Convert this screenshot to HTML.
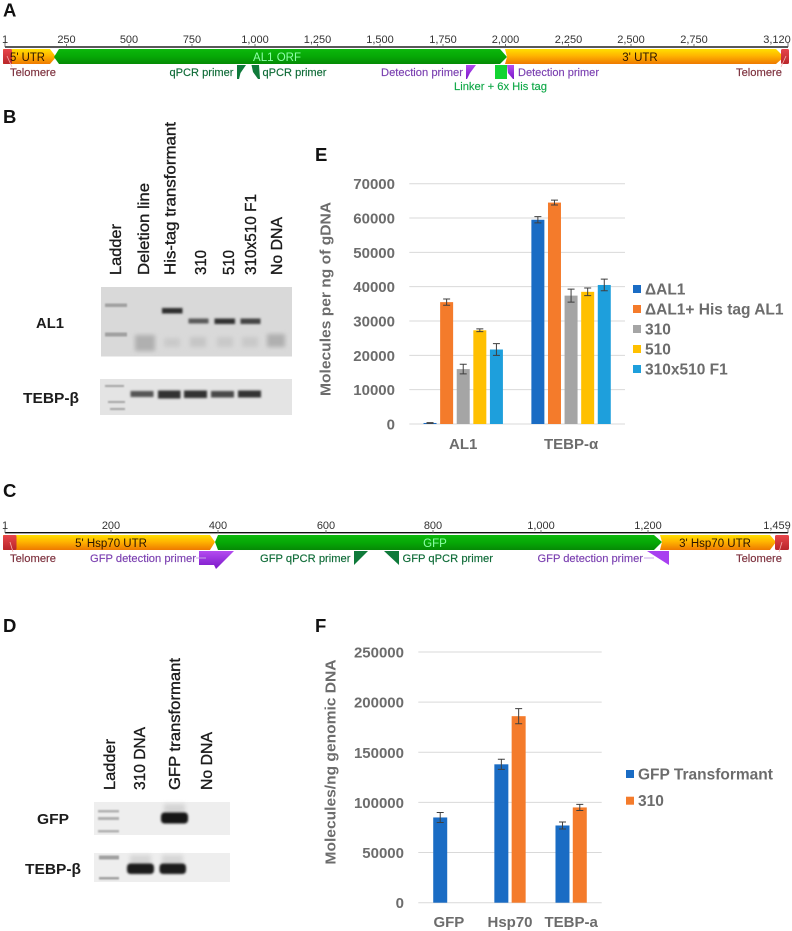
<!DOCTYPE html>
<html lang="en">
<head>
<meta charset="utf-8">
<title>Transgene constructs, gels and qPCR charts</title>
<style>
html,body{margin:0;padding:0;background:#fff}
svg{display:block;filter:blur(.3px)}
text{font-family:"Liberation Sans",sans-serif}
.panel{font-size:18.5px;font-weight:bold;fill:#111}
.tick{font-size:11px;fill:#333}
.seg{font-size:11.500px;fill:#2a1500}
.note{font-size:11px;stroke-width:.15px}
.lane{font-size:16px;fill:#1c1c1c;stroke:#1c1c1c;stroke-width:.35px}
.gel-label{font-size:15px;font-weight:bold;fill:#1c1c1c}
.axis-text{font-size:15px;font-weight:bold;fill:#6c6c6c}
.legend-text{font-size:15.500px;font-weight:bold;fill:#6c6c6c}
</style>
</head>
<body>
<svg id="figure" width="792" height="931" viewBox="0 0 792 931" xmlns="http://www.w3.org/2000/svg">
<defs>
<linearGradient id="gOrange" x1="0" y1="0" x2="0" y2="1"><stop offset="0" stop-color="#ffe000"/><stop offset=".45" stop-color="#ffb400"/><stop offset="1" stop-color="#ee7a00"/></linearGradient>
<linearGradient id="gGreen" x1="0" y1="0" x2="0" y2="1"><stop offset="0" stop-color="#0cb80c"/><stop offset=".5" stop-color="#06a806"/><stop offset="1" stop-color="#058a05"/></linearGradient>
<linearGradient id="gRed" x1="0" y1="0" x2="0" y2="1"><stop offset="0" stop-color="#e8454a"/><stop offset="1" stop-color="#b8262b"/></linearGradient>
<linearGradient id="gPurple" x1="0" y1="0" x2="0" y2="1"><stop offset="0" stop-color="#b44cf0"/><stop offset="1" stop-color="#7a18c8"/></linearGradient>
<filter id="b1" x="-30%" y="-100%" width="160%" height="300%"><feGaussianBlur stdDeviation="1"/></filter>
<filter id="b2" x="-40%" y="-120%" width="180%" height="340%"><feGaussianBlur stdDeviation="2"/></filter>
<filter id="b05" x="-20%" y="-80%" width="140%" height="260%"><feGaussianBlur stdDeviation=".7"/></filter>
</defs>

<text class="panel" x="3" y="16.500">A</text>
<text class="panel" x="3" y="123">B</text>
<text class="panel" x="3" y="497">C</text>
<text class="panel" x="3" y="632">D</text>
<text class="panel" x="315" y="161">E</text>
<text class="panel" x="315" y="632">F</text>

<!-- Map A -->
<g>
<rect x="5" y="46.300" width="783" height="1.400" fill="#111"/>
<g stroke="#555" stroke-width=".8">
<path d="M5 43V47M66.500 44V47M129 44V47M192 44V47M255 44V47M317.500 44V47M380 44V47M443 44V47M505.500 44V47M568.500 44V47M631 44V47M694 44V47M788 43V47"/>
</g>
<g text-anchor="middle">
<text class="tick" x="5" y="43">1</text><text class="tick" x="66.500" y="43">250</text><text class="tick" x="129" y="43">500</text><text class="tick" x="192" y="43">750</text><text class="tick" x="255" y="43">1,000</text><text class="tick" x="317.500" y="43">1,250</text><text class="tick" x="380" y="43">1,500</text><text class="tick" x="443" y="43">1,750</text><text class="tick" x="505.500" y="43">2,000</text><text class="tick" x="568.500" y="43">2,250</text><text class="tick" x="631" y="43">2,500</text><text class="tick" x="694" y="43">2,750</text><text class="tick" x="777" y="43">3,120</text>
</g>
<polygon points="3,49 50,49 56,57 50,64 3,64" fill="url(#gOrange)"/>
<rect x="3" y="49" width="9" height="15" rx="1.500" fill="url(#gRed)"/>
<polygon points="59,49 500,49 507,57 500,64 59,64 54,57" fill="url(#gGreen)"/>
<polygon points="505,49 776,49 784,57 776,64 505,64 507,57" fill="url(#gOrange)"/>
<rect x="781" y="49" width="8" height="15" rx="1.500" fill="url(#gRed)"/>
<path d="M7 56L12 67M786 56L781 67" stroke="#f4b0b0" stroke-width=".8" fill="none"/>
<text class="seg" x="10" y="61" textLength="35" lengthAdjust="spacingAndGlyphs">5' UTR</text>
<text class="seg" x="277" y="61" text-anchor="middle" style="fill:#8dffa8">AL1 ORF</text>
<text class="seg" x="640" y="61" text-anchor="middle">3' UTR</text>
<text class="note" x="10" y="76" textLength="46" lengthAdjust="spacingAndGlyphs" fill="#7c2f3c" stroke="#7c2f3c">Telomere</text>
<text class="note" x="736" y="76" textLength="46" lengthAdjust="spacingAndGlyphs" fill="#7c2f3c" stroke="#7c2f3c">Telomere</text>
<text class="note" x="169.500" y="76" textLength="64" lengthAdjust="spacingAndGlyphs" fill="#0d6a36" stroke="#0d6a36">qPCR primer</text>
<text class="note" x="262.500" y="76" textLength="64" lengthAdjust="spacingAndGlyphs" fill="#0d6a36" stroke="#0d6a36">qPCR primer</text>
<polygon points="237,65 246,65 240.500,73 239,79 237,79" fill="#0f7a3a"/>
<polygon points="251.500,65 259,65 260,79 258,79 253,72" fill="#0f7a3a"/>
<text class="note" x="381" y="76" textLength="82" lengthAdjust="spacingAndGlyphs" fill="#7a3fb0" stroke="#7a3fb0">Detection primer</text>
<text class="note" x="518" y="76" textLength="81" lengthAdjust="spacingAndGlyphs" fill="#7a3fb0" stroke="#7a3fb0">Detection primer</text>
<polygon points="466,65 476,65 470,73 467,79 466,79" fill="url(#gPurple)"/>
<polygon points="507,65 514,65 514,79 513,79 508,73" fill="url(#gPurple)"/>
<rect x="495" y="65" width="12" height="14" fill="#12d431"/>
<text class="note" x="454" y="90" textLength="93" lengthAdjust="spacingAndGlyphs" fill="#10a848" stroke="#10a848">Linker + 6x His tag</text>
</g>

<!-- Map C -->
<g>
<rect x="5" y="532" width="783" height="1.400" fill="#111"/>
<g stroke="#555" stroke-width=".8">
<path d="M5 529V533M111 530V533M218 530V533M326 530V533M433 530V533M541 530V533M648 530V533M788 529V533"/>
</g>
<g text-anchor="middle">
<text class="tick" x="5" y="529">1</text><text class="tick" x="111" y="529">200</text><text class="tick" x="218" y="529">400</text><text class="tick" x="326" y="529">600</text><text class="tick" x="433" y="529">800</text><text class="tick" x="541" y="529">1,000</text><text class="tick" x="648" y="529">1,200</text><text class="tick" x="777" y="529">1,459</text>
</g>
<polygon points="3,535 210,535 215,542 210,550 3,550" fill="url(#gOrange)"/>
<rect x="3" y="535" width="13.500" height="15" rx="1.500" fill="url(#gRed)"/>
<polygon points="218,535 654,535 662,542 654,550 218,550 215,542" fill="url(#gGreen)"/>
<polygon points="660,535 770,535 776,542 770,550 660,550 662,542" fill="url(#gOrange)"/>
<rect x="775" y="535" width="14" height="15" rx="1.500" fill="url(#gRed)"/>
<path d="M10 542L13 552M782 542L779 552" stroke="#f4b0b0" stroke-width=".8" fill="none"/>
<text class="seg" x="111" y="547" text-anchor="middle">5' Hsp70 UTR</text>
<text class="seg" x="435" y="547" text-anchor="middle" style="fill:#8dffa8">GFP</text>
<text class="seg" x="715" y="547" text-anchor="middle">3' Hsp70 UTR</text>
<text class="note" x="10" y="562" textLength="46" lengthAdjust="spacingAndGlyphs" fill="#7c2f3c" stroke="#7c2f3c">Telomere</text>
<text class="note" x="736" y="562" textLength="46" lengthAdjust="spacingAndGlyphs" fill="#7c2f3c" stroke="#7c2f3c">Telomere</text>
<text class="note" x="90" y="562" textLength="106" lengthAdjust="spacingAndGlyphs" fill="#7a3fb0" stroke="#7a3fb0">GFP detection primer</text>
<text class="note" x="537.500" y="562" textLength="105.500" lengthAdjust="spacingAndGlyphs" fill="#7a3fb0" stroke="#7a3fb0">GFP detection primer</text>
<polygon points="199,551 234,551 216,569 214,565 199,565" fill="url(#gPurple)"/>
<polygon points="647,551 669,551 669,565" fill="#a83ff0"/>
<path d="M196 558H206M644 558H654" stroke="#c9a6e8" stroke-width="1"/>
<text class="note" x="260" y="562" textLength="90.500" lengthAdjust="spacingAndGlyphs" fill="#0d6a36" stroke="#0d6a36">GFP qPCR primer</text>
<text class="note" x="402.500" y="562" textLength="90.500" lengthAdjust="spacingAndGlyphs" fill="#0d6a36" stroke="#0d6a36">GFP qPCR primer</text>
<polygon points="354,551 368,551 354,565" fill="#0f7a3a"/>
<polygon points="384,551 399,551 399,565" fill="#0f7a3a"/>
</g>

<!-- Gel B -->
<g>
<g>
<text class="lane" transform="translate(121,275) rotate(-90)" textLength="51" lengthAdjust="spacingAndGlyphs">Ladder</text>
<text class="lane" transform="translate(149,275) rotate(-90)" textLength="92" lengthAdjust="spacingAndGlyphs">Deletion line</text>
<text class="lane" transform="translate(175.500,275) rotate(-90)" textLength="153" lengthAdjust="spacingAndGlyphs">His-tag transformant</text>
<text class="lane" transform="translate(206,275) rotate(-90)" textLength="25" lengthAdjust="spacingAndGlyphs">310</text>
<text class="lane" transform="translate(234,275) rotate(-90)" textLength="25" lengthAdjust="spacingAndGlyphs">510</text>
<text class="lane" transform="translate(256,275) rotate(-90)" textLength="81" lengthAdjust="spacingAndGlyphs">310x510 F1</text>
<text class="lane" transform="translate(282,275) rotate(-90)" textLength="58" lengthAdjust="spacingAndGlyphs">No DNA</text>
</g>
<text class="gel-label" x="36" y="328" textLength="28" lengthAdjust="spacingAndGlyphs">AL1</text>
<text class="gel-label" x="23" y="403" textLength="56" lengthAdjust="spacingAndGlyphs">TEBP-β</text>
<rect x="101" y="287" width="191" height="69.500" fill="#d9d9d9"/>
<g filter="url(#b2)" fill="#b0b0b0">
<rect x="135" y="335" width="20" height="16"/><rect x="267" y="334" width="18" height="13"/>
<rect x="190" y="337" width="16" height="10" fill="#c6c6c6"/><rect x="217" y="337" width="16" height="10" fill="#c9c9c9"/><rect x="242" y="337" width="16" height="10" fill="#c9c9c9"/><rect x="164" y="338" width="16" height="9" fill="#cacaca"/>
</g>
<g filter="url(#b05)" fill="#a0a0a0">
<rect x="105" y="303.500" width="22" height="3.500"/><rect x="105" y="332.500" width="22" height="4"/>
</g>
<g filter="url(#b1)" fill="#2e2e2e">
<rect x="162" y="308" width="20.500" height="5.500"/>
<rect x="188.500" y="318.500" width="20" height="5" fill="#5a5a5a"/>
<rect x="214.500" y="318.500" width="20.500" height="5.500" fill="#333"/>
<rect x="240.500" y="318.500" width="20" height="5.500" fill="#444"/>
</g>
<rect x="100" y="379" width="192" height="36" fill="#e4e4e4"/>
<g filter="url(#b05)" fill="#a4a4a4">
<rect x="105" y="385" width="19" height="2"/><rect x="108" y="401" width="17" height="2"/><rect x="110" y="408" width="15" height="2"/>
</g>
<g filter="url(#b1)" fill="#333">
<rect x="130.500" y="391" width="23" height="6" fill="#555"/><rect x="158" y="390.500" width="22.500" height="8"/><rect x="184" y="390.500" width="23" height="7.500"/><rect x="211" y="391" width="23" height="6.500" fill="#484848"/><rect x="238" y="390.500" width="23" height="7"/>
</g>
</g>

<!-- Gel D -->
<g>
<g>
<text class="lane" transform="translate(115,790) rotate(-90)" textLength="51" lengthAdjust="spacingAndGlyphs">Ladder</text>
<text class="lane" transform="translate(145,790) rotate(-90)" textLength="63" lengthAdjust="spacingAndGlyphs">310 DNA</text>
<text class="lane" transform="translate(180,790) rotate(-90)" textLength="132" lengthAdjust="spacingAndGlyphs">GFP transformant</text>
<text class="lane" transform="translate(212,790) rotate(-90)" textLength="58" lengthAdjust="spacingAndGlyphs">No DNA</text>
</g>
<text class="gel-label" x="37" y="824" textLength="32" lengthAdjust="spacingAndGlyphs">GFP</text>
<text class="gel-label" x="25" y="874" textLength="56" lengthAdjust="spacingAndGlyphs">TEBP-β</text>
<rect x="94" y="802" width="136" height="33" fill="#eeeeee"/>
<g filter="url(#b05)" fill="#b0b0b0">
<rect x="98" y="810" width="21" height="2.500"/><rect x="98" y="817" width="21" height="3"/><rect x="98" y="830" width="21" height="2.500"/>
</g>
<rect x="164" y="804" width="21" height="10" fill="#d4d4d4" filter="url(#b2)"/>
<rect x="161" y="812.500" width="27" height="11" rx="3.500" fill="#141414" filter="url(#b1)"/>
<rect x="94" y="853" width="136" height="29" fill="#eeeeee"/>
<g filter="url(#b05)" fill="#a0a0a0">
<rect x="99" y="855.500" width="20" height="4"/><rect x="99" y="877" width="20" height="2.500"/>
</g>
<g filter="url(#b2)" fill="#d6d6d6">
<rect x="130" y="855" width="21" height="10"/><rect x="162" y="855" width="21" height="10"/>
</g>
<g filter="url(#b1)" fill="#1e1e1e">
<rect x="127" y="863.500" width="27" height="10.500" rx="3.500"/><rect x="159.500" y="863.500" width="26.500" height="10.500" rx="3.500"/>
</g>
</g>

<g id="chart-e"></g>
<g id="chart-f"></g>
</svg>

<script>
// Chart E data
const eCategories = ['AL1', 'TEBP-α'];
const eSeriesNames = ['ΔAL1', 'ΔAL1+ His tag AL1', '310', '510', '310x510 F1'];
const eColors = ['#1a6cc4', '#f47b2b', '#a5a5a5', '#ffc000', '#1e9fdc'];
const eDeltaAL1 = [300, 59500];
const eHisTag = [35500, 64500];
const e310 = [16000, 37400];
const e510 = [27300, 38500];
const eF1 = [21700, 40500];
const eDeltaAL1Err = [100, 900];
const eHisTagErr = [900, 700];
const e310Err = [1400, 1900];
const e510Err = [400, 1100];
const eF1Err = [1700, 1700];
const eTicks = [0, 10000, 20000, 30000, 40000, 50000, 60000, 70000];

// Chart F data
const fCategories = ['GFP', 'Hsp70', 'TEBP-a'];
const fSeriesNames = ['GFP Transformant', '310'];
const fColors = ['#1a6cc4', '#f47b2b'];
const fTransformant = [85000, 138000, 77000];
const f310 = [0, 186000, 95000];
const fTransformantErr = [5000, 5000, 3500];
const f310Err = [0, 7500, 3000];
const fTicks = [0, 50000, 100000, 150000, 200000, 250000];

const NS = 'http://www.w3.org/2000/svg';
function make(parent, tag, attrs, txt) {
  const n = document.createElementNS(NS, tag);
  for (const k in attrs) n.setAttribute(k, attrs[k]);
  if (txt !== undefined) n.textContent = txt;
  parent.appendChild(n);
  return n;
}

function drawChart(root, cfg) {
  const yScale = v => cfg.y0 - (v / cfg.yMax) * (cfg.y0 - cfg.yTop);
  const band = (cfg.x1 - cfg.x0) / cfg.categories.length;
  const xScale = (c, s) => cfg.x0 + band * (c + 0.5) + (s - (cfg.series.length - 1) / 2) * cfg.pitch;

  cfg.ticks.forEach(t => {
    const line = make(root, 'line', {x1: cfg.x0, x2: cfg.x1, y1: yScale(t), y2: yScale(t), stroke: '#d9d9d9', 'stroke-width': 1});
    
    
    const label = make(root, 'text', {class: 'axis-text', x: cfg.tickX, y: yScale(t) + 5.5, 'text-anchor': 'end'}, String(t));
    
    
  });

  cfg.series.forEach((vals, s) => {
    vals.forEach((v, c) => {
      if (v <= 0) return;
      const cx = xScale(c, s);
      const bar = make(root, 'rect', {x: cx - cfg.barW / 2, y: yScale(v), width: cfg.barW, height: cfg.y0 - yScale(v), fill: cfg.colors[s]});
      
      
      const e = cfg.errors[s][c];
      const hi = yScale(v + e), lo = yScale(v - e);
      const err = make(root, 'path', {d: `M${cx - 3.5} ${hi}H${cx + 3.5}M${cx} ${hi}V${lo}M${cx - 3.5} ${lo}H${cx + 3.5}`, stroke: '#3f3f3f', 'stroke-width': 1, fill: 'none'});
      
      
    });
  });

  cfg.categories.forEach((name, c) => {
    const cat = make(root, 'text', {class: 'axis-text', x: cfg.x0 + band * (c + 0.5), y: cfg.catY, 'text-anchor': 'middle'}, name);
    
    
  });

  const title = make(root, 'text', {class: 'axis-text', transform: `translate(${cfg.titleX},${cfg.titleY}) rotate(-90)`, 'text-anchor': 'middle', textLength: cfg.titleLen, lengthAdjust: 'spacingAndGlyphs'}, cfg.title);
  
  

  cfg.names.forEach((name, s) => {
    const ly = cfg.legendY + s * cfg.legendStep;
    const swatch = make(root, 'rect', {x: cfg.legendX, y: ly - 4, width: 8, height: 8, fill: cfg.colors[s]});
    
    
    const entry = make(root, 'text', {class: 'legend-text', x: cfg.legendX + 12, y: ly + 5.5}, name);
    
    
  });
}

drawChart(document.getElementById('chart-e'), {
  categories: eCategories, names: eSeriesNames, colors: eColors,
  series: [eDeltaAL1, eHisTag, e310, e510, eF1],
  errors: [eDeltaAL1Err, eHisTagErr, e310Err, e510Err, eF1Err],
  ticks: eTicks, yMax: 70000, y0: 424, yTop: 183.7, x0: 409.3, x1: 625,
  pitch: 16.6, barW: 13, tickX: 395, catY: 449,
  title: 'Molecules per ng of gDNA', titleX: 330.5, titleY: 299, titleLen: 194,
  legendX: 633, legendY: 289, legendStep: 20
});

drawChart(document.getElementById('chart-f'), {
  categories: fCategories, names: fSeriesNames, colors: fColors,
  series: [fTransformant, f310],
  errors: [fTransformantErr, f310Err],
  ticks: fTicks, yMax: 250000, y0: 902.7, yTop: 652, x0: 418.3, x1: 601.7,
  pitch: 17.3, barW: 14, tickX: 404, catY: 927,
  title: 'Molecules/ng genomic DNA', titleX: 335.5, titleY: 762, titleLen: 205,
  legendX: 626, legendY: 774, legendStep: 26.7
});
</script>
</body>
</html>
